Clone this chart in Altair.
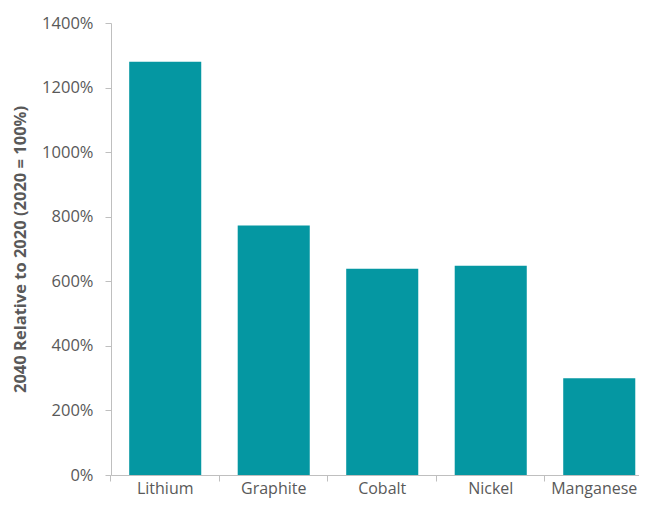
import altair as alt
import pandas as pd

minerals = ["Lithium", "Graphite", "Cobalt", "Nickel", "Manganese"]
relative_2040 = [1280, 773, 639, 648, 300]
y_ticks = [0, 200, 400, 600, 800, 1000, 1200, 1400]

df = pd.DataFrame({"mineral": minerals, "value": relative_2040})

FONT = "Open Sans"
GREY = "#595959"

chart = alt.Chart(df).mark_bar(color="#0597a2").encode(
    x=alt.X(
        "mineral:N",
        sort=minerals,
        title=None,
        scale=alt.Scale(paddingInner=0.336, paddingOuter=0.101, align=0.83),
        axis=alt.Axis(
            labelAngle=0,
            labelFontSize=16,
            labelColor=GREY,
            labelFont=FONT,
            labelPadding=-1,
            labelOffset={"condition": {"test": "datum.label == 'Manganese'", "value": -5}, "value": 0},
            domainColor="#bfbfbf",
            tickColor="#bfbfbf",
            tickSize=6,
            bandPosition=-0.2535,
        ),
    ),
    y=alt.Y(
        "value:Q",
        title="2040 Relative to 2020 (2020 = 100%)",
        scale=alt.Scale(domain=[0, 1400], nice=False),
        axis=alt.Axis(
            values=y_ticks,
            labelExpr="datum.value + '%'",
            labelFontSize=16.5,
            labelColor=GREY,
            labelFont=FONT,
            labelPadding=12,
            titleFontSize=16.5,
            titleFont=FONT,
            titleColor=GREY,
            titleFontWeight="bold",
            titlePadding=13,
            domainColor="#bfbfbf",
            tickColor="#bfbfbf",
            tickSize=6,
            grid=False,
        ),
    ),
).properties(
    width=528,
    height=452,
    autosize=alt.AutoSizeParams(type="none"),
    padding={"left": 103, "top": 15, "right": 0, "bottom": 25},
).configure_view(stroke=None)

chart.save("out.html", embed_options={"renderer": "svg", "actions": False})
